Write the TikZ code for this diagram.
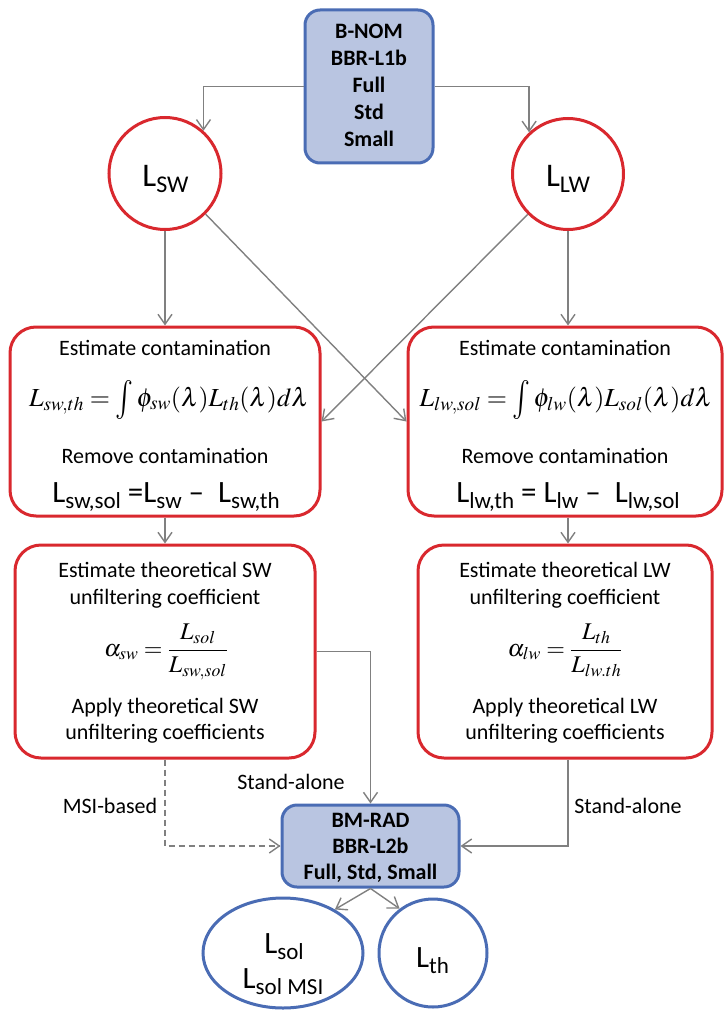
\documentclass[tikz,border=0pt]{standalone}
\usepackage{mathptmx}
\usepackage[no-math]{fontspec}
\setmainfont{Carlito}
\usetikzlibrary{arrows.meta,shapes.geometric}
\definecolor{rbord}{HTML}{D9282E}
\definecolor{bbord}{HTML}{4A6CB4}
\definecolor{bfill}{HTML}{B9C5E1}
\definecolor{arrgray}{HTML}{808080}
\newcommand{\Lbig}[1]{L\raisebox{-6.5pt}{\fontsize{24}{24}\selectfont #1}}
\newcommand{\Lmid}[1]{L\raisebox{-6pt}{\fontsize{23}{23}\selectfont #1}}
\newcommand{\tallint}{\mathop{\vcenter{\hbox{\scalebox{1.15}[1.5]{$\int$}}}}\nolimits}
\begin{document}
\begin{tikzpicture}[x=1pt,y=-1pt,
  arr/.style={draw=arrgray, line width=1.4pt, -{Straight Barb[length=10pt,width=14pt]}},
  dasharr/.style={arr, dash pattern=on 6pt off 4pt},
  redbox/.style={rectangle, draw=rbord, line width=3pt, rounded corners=26pt, fill=white, inner sep=0},
  bluebox/.style={rectangle, draw=bbord, line width=3pt, rounded corners=15pt, fill=bfill, inner sep=0},
  redcirc/.style={circle, draw=rbord, line width=3pt, fill=white, inner sep=0},
  bluecirc/.style={circle, draw=bbord, line width=3pt, fill=white, inner sep=0},
  txt/.style={font=\fontsize{22}{26}\selectfont, inner sep=0, anchor=base},
  btxt/.style={font=\fontsize{22}{26}\selectfont\bfseries, inner sep=0, anchor=base},
  bigL/.style={font=\fontsize{31}{34}\selectfont, inner sep=0, anchor=base},
  hugeL/.style={font=\fontsize{33}{36}\selectfont, inner sep=0, anchor=base},
  mth/.style={font=\fontsize{26}{30}\selectfont, inner sep=0, anchor=base},
  frc/.style={font=\fontsize{24}{28}\selectfont, inner sep=0, anchor=base},
]
\useasboundingbox (0,0) rectangle (724,1011);

% shapes
\node[bluebox, minimum width=128, minimum height=153] (top) at (369,86.5) {};
\node[btxt] (t1) at (369,39) {B-NOM};
\node[btxt] (t2) at (369,66) {BBR-L1b};
\node[btxt] (t3) at (369,93) {Full};
\node[btxt] (t4) at (369,120) {Std};
\node[btxt] (t5) at (369,147) {Small};

\node[redcirc, minimum size=112] (lsw) at (165,173.5) {};
\node[hugeL] (lswt) at (165.5,186) {\Lbig{SW}};
\node[redcirc, minimum size=111] (llw) at (568,174) {};
\node[hugeL] (llwt) at (568,186) {\Lbig{LW}};

\node[redbox, minimum width=310, minimum height=189] (b1) at (165,421.5) {};
\node[redbox, minimum width=314, minimum height=189] (b2) at (565,421.5) {};
\node[redbox, minimum width=300, minimum height=213] (b3) at (165,651.5) {};
\node[redbox, minimum width=294, minimum height=213] (b4) at (565,651.5) {};

\node[bluebox, minimum width=177, minimum height=82] (bm) at (370.5,846) {};
\node[btxt] (m1) at (370.5,827) {BM-RAD};
\node[btxt] (m2) at (370.5,853) {BBR-L2b};
\node[btxt] (m3) at (370.5,879) {Full, Std, Small};

\node[ellipse, draw=bbord, line width=3pt, fill=white, inner sep=0, minimum width=160, minimum height=110] (lsol) at (283,953) {};
\node[bigL] (lsolt1) at (284,953) {\Lmid{sol}};
\node[bigL] (lsolt2) at (283,988) {\Lmid{sol MSI}};
\node[bluecirc, minimum size=108] (lth) at (433,953) {};
\node[bigL] (ltht) at (432.5,967) {\Lmid{th}};

% box 1 text
\node[txt] (b1a) at (165,355) {Estimate contamination};
\node[mth] (b1f) at (169,406) {$L_{sw,th}=\tallint\phi_{sw}(\lambda)L_{th}(\lambda)d\lambda$};
\node[txt] (b1b) at (165,463) {Remove contamination};
\node[bigL] (b1g) at (166,502) {\Lmid{sw,sol} =\Lmid{sw} –\ \ \Lmid{sw,th}};
% box 2 text
\node[txt] (b2a) at (565,355) {Estimate contamination};
\node[mth] (b2f) at (566,406) {$L_{lw,sol}=\tallint\phi_{lw}(\lambda)L_{sol}(\lambda)d\lambda$};
\node[txt] (b2b) at (565,463) {Remove contamination};
\node[bigL] (b2g) at (568,502) {\Lmid{lw,th} = \Lmid{lw} –\ \ \Lmid{lw,sol}};
% box 3 text
\node[txt] (b3a) at (165,577) {Estimate theoretical SW};
\node[txt] (b3b) at (165,604) {unfiltering coefficient};
\node[frc] (b3f) at (166,656) {$\displaystyle\alpha_{sw}=\frac{L_{sol}}{L_{sw,sol}}$};
\node[txt] (b3c) at (165,713) {Apply theoretical SW};
\node[txt] (b3d) at (165,739) {unfiltering coefficients};
% box 4 text
\node[txt] (b4a) at (565,577) {Estimate theoretical LW};
\node[txt] (b4b) at (565,604) {unfiltering coefficient};
\node[frc] (b4f) at (565,656) {$\displaystyle\alpha_{lw}=\frac{L_{th}}{L_{lw.th}}$};
\node[txt] (b4c) at (565,713) {Apply theoretical LW};
\node[txt] (b4d) at (565,739) {unfiltering coefficients};

% labels
\node[txt] (sa1) at (291,789) {Stand-alone};
\node[txt] (sa2) at (628,813) {Stand-alone};
\node[txt] (msi) at (110,813) {MSI-based};

% connectors
\draw[arr] (top.west) -| (lsw.48);
\draw[arr] (top.east) -| (llw.133);
\draw[arr] (lsw.south) -- (b1.north -| lsw.south);
\draw[arr] (llw.south) -- (b2.north -| llw.south);
\draw[arr] (lsw.-45) -- (b2.west);
\draw[arr] (llw.-135) -- (b1.east);
\draw[arr] (b1.south) -- (b3.north);
\draw[arr] (b2.south -| llw.south) -- (b4.north -| llw.south);
\draw[arr] (b3.east) -| (bm.north);
\draw[arr] (b4.south -| llw.south) |- (bm.east);
\draw[dasharr] (b3.south) |- (bm.west);
\draw[arr] (bm.south) -- (lsol.40);
\draw[arr] (bm.south) -- (lth.127);
\end{tikzpicture}
\end{document}
